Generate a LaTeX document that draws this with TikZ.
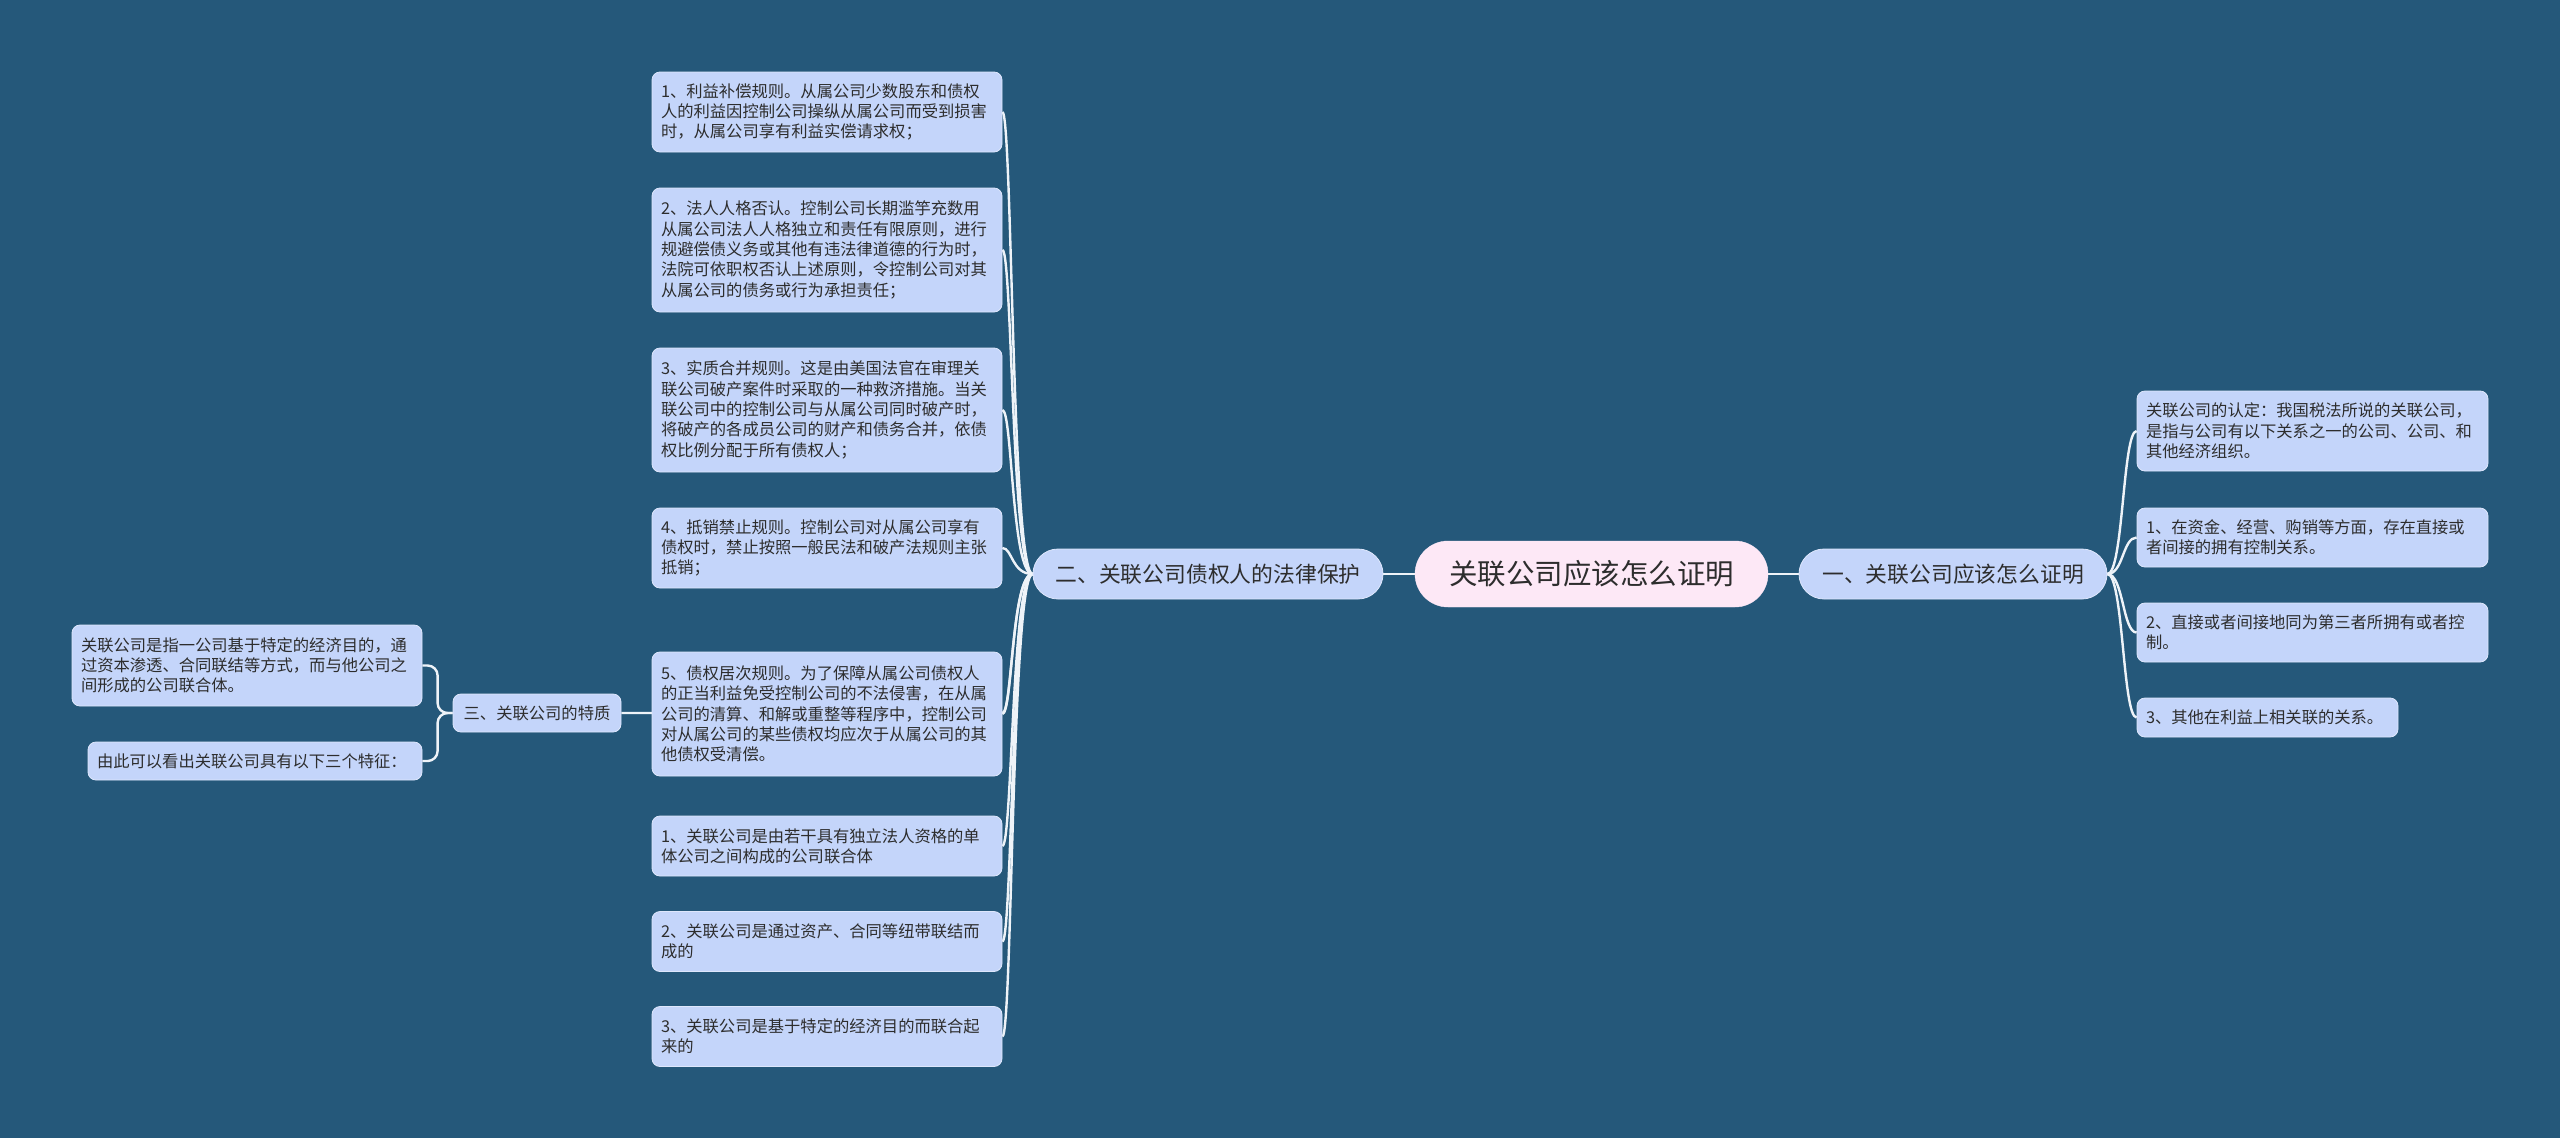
\documentclass[tikz,border=0pt]{standalone}
\usepackage{fontspec}
\setmainfont{Noto Sans CJK SC}
\definecolor{bgc}{RGB}{37,88,122}
\definecolor{leaffill}{RGB}{196,213,250}
\definecolor{leafedge}{RGB}{222,231,252}
\definecolor{rootfill}{RGB}{253,232,246}
\definecolor{linec}{RGB}{238,243,248}
\definecolor{txt}{RGB}{45,45,45}
\pgfdeclarelayer{back}
\pgfdeclarelayer{lines}
\pgfsetlayers{back,lines,main}
\begin{document}
\begin{tikzpicture}[x=1pt,y=-1pt,
  leaf/.style={draw=leafedge, line width=0.8pt, fill=leaffill, rounded corners=8pt, text=txt,
    font=\fontsize{16.3}{20.3}\selectfont, align=left, inner xsep=9pt, inner ysep=0pt},
  lvl/.style={draw=leafedge, line width=0.8pt, fill=leaffill, rounded corners=25pt, text=txt,
    font=\fontsize{21.8}{26}\selectfont, minimum height=50pt, inner sep=0pt},
  rootbox/.style={draw=rootfill, fill=rootfill, rounded corners=33pt, text=txt,
    font=\fontsize{28.5}{33}\selectfont, minimum height=66pt, minimum width=353pt, inner sep=0pt},
  conn/.style={draw=linec, line width=2.4pt}
]
\begin{pgfonlayer}{back}
\fill[bgc] (0,0) rectangle (2560,1138);
\end{pgfonlayer}

% root and level-1
\node[rootbox] (root) at (1591.5,574) {关联公司应该怎么证明};
\node[lvl, minimum width=350pt] (s2) at (1208,574) {二、关联公司债权人的法律保护};
\node[lvl, minimum width=308pt] (s1) at (1953,574) {一、关联公司应该怎么证明};

% left leaves
\node[leaf, text width=332pt, minimum height=80pt] (l1) at (827,112) {1、利益补偿规则。从属公司少数股东和债权\\人的利益因控制公司操纵从属公司而受到损害\\时，从属公司享有利益实偿请求权；};
\node[leaf, text width=332pt, minimum height=124pt] (l2) at (827,250) {2、法人人格否认。控制公司长期滥竽充数用\\从属公司法人人格独立和责任有限原则，进行\\规避偿债义务或其他有违法律道德的行为时，\\法院可依职权否认上述原则，令控制公司对其\\从属公司的债务或行为承担责任；};
\node[leaf, text width=332pt, minimum height=124pt] (l3) at (827,410) {3、实质合并规则。这是由美国法官在审理关\\联公司破产案件时采取的一种救济措施。当关\\联公司中的控制公司与从属公司同时破产时，\\将破产的各成员公司的财产和债务合并，依债\\权比例分配于所有债权人；};
\node[leaf, text width=332pt, minimum height=80pt] (l4) at (827,548) {4、抵销禁止规则。控制公司对从属公司享有\\债权时，禁止按照一般民法和破产法规则主张\\抵销；};
\node[leaf, text width=332pt, minimum height=124pt] (l5) at (827,714) {5、债权居次规则。为了保障从属公司债权人\\的正当利益免受控制公司的不法侵害，在从属\\公司的清算、和解或重整等程序中，控制公司\\对从属公司的某些债权均应次于从属公司的其\\他债权受清偿。};
\node[leaf, text width=332pt, minimum height=60pt] (l6) at (827,846) {1、关联公司是由若干具有独立法人资格的单\\体公司之间构成的公司联合体};
\node[leaf, text width=332pt, minimum height=60pt] (l7) at (827,941.5) {2、关联公司是通过资产、合同等纽带联结而\\成的};
\node[leaf, text width=332pt, minimum height=60pt] (l8) at (827,1036.5) {3、关联公司是基于特定的经济目的而联合起\\来的};

% third branch
\node[leaf, minimum width=168pt, minimum height=38pt, align=center, inner xsep=0pt] (s3) at (537,713) {三、关联公司的特质};
\node[leaf, text width=332pt, minimum height=81pt] (t1) at (247,665.5) {关联公司是指一公司基于特定的经济目的，通\\过资本渗透、合同联结等方式，而与他公司之\\间形成的公司联合体。};
\node[leaf, text width=316pt, minimum height=38pt] (t2) at (255,761) {由此可以看出关联公司具有以下三个特征：};

% right leaves
\node[leaf, text width=333pt, minimum height=80pt] (r1) at (2312.5,431) {关联公司的认定：我国税法所说的关联公司，\\是指与公司有以下关系之一的公司、公司、和\\其他经济组织。};
\node[leaf, text width=333pt, minimum height=59pt] (r2) at (2312.5,537.5) {1、在资金、经营、购销等方面，存在直接或\\者间接的拥有控制关系。};
\node[leaf, text width=333pt, minimum height=59pt] (r3) at (2312.5,632.5) {2、直接或者间接地同为第三者所拥有或者控\\制。};
\node[leaf, text width=243pt, minimum height=39pt] (r4) at (2267.5,717.5) {3、其他在利益上相关联的关系。};

\begin{pgfonlayer}{lines}
\draw[conn] (root.west) -- (s2.east);
\draw[conn] (root.east) -- (s1.west);
\foreach \c in {l1,l2,l3,l4,l5,l6,l7,l8}
  \draw[conn] (s2.west) .. controls +(-21,0) and +(10,0) .. (\c.east);
\draw[conn] (s2.west) .. controls +(-21,0) and +(10,0) .. (l5.east |- s3.east) -- (s3.east);
\foreach \c in {r1,r2,r3,r4}
  \draw[conn] (s1.east) .. controls +(16,0) and +(-14,0) .. (\c.west);
\draw[conn, rounded corners=10pt] (s3.west) -- ++(-15,0) |- (t1.east);
\draw[conn, rounded corners=10pt] (s3.west) -- ++(-15,0) |- (t2.east);
\end{pgfonlayer}
\end{tikzpicture}
\end{document}
